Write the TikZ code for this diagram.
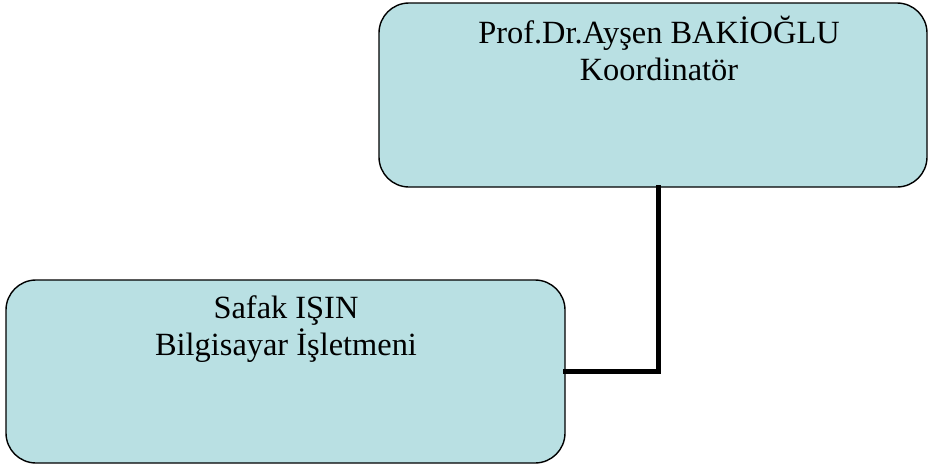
\documentclass[tikz,border=0pt]{standalone}
\usepackage{fontspec}
\setmainfont{Liberation Serif}
\usepackage{tikz}
\usetikzlibrary{positioning,calc}
\definecolor{kutu}{RGB}{185,224,227}

\begin{document}
\begin{tikzpicture}[x=1pt, y=-1pt, line cap=round]
  \tikzset{kutu/.style={draw=black, line width=1.4pt, fill=kutu, rounded corners=30pt, inner sep=0pt},
           yazi/.style={align=center, inner sep=0pt, anchor=base, font=\fontsize{32.4}{37}\selectfont},
           baglanti/.style={line width=5pt, line cap=rect}}
  \useasboundingbox (0,0) rectangle (929,466);
  % kutular
  \node[kutu, minimum width=548pt, minimum height=184pt] (koord) at (653,95) {};
  \node[kutu, minimum width=559pt, minimum height=183pt] (islet) at (285.5,371.5) {};
  % baglanti
  \draw[baglanti] ([xshift=5pt]koord.south) |- (islet.east);
  % yazilar
  \node[yazi] (koordyazi) at (659,80) {Prof.Dr.Ayşen BAKİOĞLU\\Koordinatör};
  \node[yazi] (isletyazi) at (286,355) {Safak IŞIN\\Bilgisayar İşletmeni};
\end{tikzpicture}
\end{document}
